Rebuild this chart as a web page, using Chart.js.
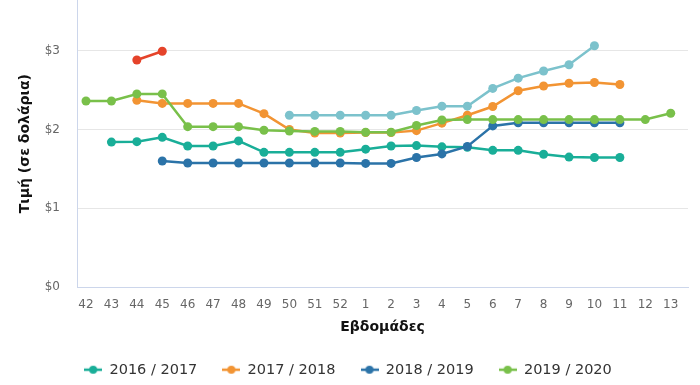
<!DOCTYPE html>
<html>
<head>
<meta charset="utf-8">
<script src="https://cdn.jsdelivr.net/npm/chart.js@4/dist/chart.umd.min.js"></script>
<style>
  html, body { margin: 0; padding: 0; background: #ffffff; }
  #wrap { width: 700px; height: 385px; position: relative; }
</style>
</head>
<body>
<div id="wrap"><canvas id="c" width="700" height="385"></canvas></div>
<script>
// ---- data ----
const weeks = ['42','43','44','45','46','47','48','49','50','51','52','1','2','3','4','5','6','7','8','9','10','11','12','13'];
const seriesNames = ['2016 / 2017', '2017 / 2018', '2018 / 2019', '2019 / 2020', '2020 / 2021', '2015 / 2016'];
const s2016_2017 = [null,1.84,1.845,1.90,1.79,1.79,1.855,1.71,1.71,1.71,1.71,1.75,1.79,1.795,1.78,1.775,1.735,1.735,1.685,1.65,1.645,1.645,null,null];
const s2017_2018 = [null,null,2.37,2.33,2.33,2.33,2.33,2.20,2.00,1.955,1.955,1.96,1.96,1.985,2.08,2.18,2.29,2.49,2.55,2.585,2.595,2.57,null,null];
const s2018_2019 = [null,null,null,1.60,1.575,1.575,1.575,1.575,1.575,1.575,1.575,1.57,1.57,1.645,1.69,1.785,2.045,2.085,2.085,2.085,2.085,2.085,null,null];
const s2019_2020 = [2.36,2.36,2.45,2.45,2.035,2.035,2.035,1.99,1.98,1.975,1.975,1.965,1.965,2.05,2.12,2.125,2.125,2.125,2.125,2.125,2.125,2.125,2.125,2.205];
const sLightBlue = [null,null,null,null,null,null,null,null,2.18,2.18,2.18,2.18,2.18,2.24,2.295,2.295,2.52,2.65,2.74,2.82,3.06,null,null,null];
const sRed = [null,null,2.88,2.99,null,null,null,null,null,null,null,null,null,null,null,null,null,null,null,null,null,null,null,null];
const yTickValues = [0, 1, 2, 3];

const colors = ['#19ae98', '#f29433', '#2b73a8', '#79c04a', '#7cc2cc', '#e5432a'];
const drawOrder = [4, 3, 2, 1, 5, 6];
const allSeries = [s2016_2017, s2017_2018, s2018_2019, s2019_2020, sLightBlue, sRed];

function legendMarker(color) {
  const cv = document.createElement('canvas');
  cv.width = 18; cv.height = 10;
  const g = cv.getContext('2d');
  g.strokeStyle = color; g.lineWidth = 2.5;
  g.beginPath(); g.moveTo(0, 5); g.lineTo(18, 5); g.stroke();
  g.fillStyle = color;
  g.beginPath(); g.arc(9, 5, 4, 0, Math.PI * 2); g.fill();
  return cv;
}

const datasets = allSeries.map((arr, i) => ({
  label: seriesNames[i],
  data: arr.map((v, j) => ({ x: j, y: v })),
  borderColor: colors[i],
  backgroundColor: colors[i],
  borderWidth: 2.5,
  pointRadius: 4.5,
  pointBorderWidth: 0,
  pointBackgroundColor: colors[i],
  pointStyle: 'circle',
  tension: 0,
  spanGaps: false,
  order: drawOrder[i],
  _marker: legendMarker(colors[i])
}));

const tickFont = { family: 'DejaVu Sans', size: 12 };
const titleFont = { family: 'DejaVu Sans', size: 14, weight: 'bold' };

const shiftLegend = {
  id: 'shiftLegend',
  afterLayout(chart) {
    if (chart.legend) { chart.legend.left += 4; chart.legend.right += 4; }
  }
};

new Chart(document.getElementById('c'), {
  type: 'line',
  data: { datasets },
  plugins: [shiftLegend],
  options: {
    responsive: false,
    animation: false,
    layout: { autoPadding: false, padding: { left: 0, right: 12, top: 0, bottom: -2 } },
    plugins: {
      tooltip: { enabled: false },
      legend: {
        position: 'bottom',
        labels: {
          usePointStyle: true,
          pointStyleWidth: 18,
          padding: 25,
          color: '#333333',
          font: { family: 'DejaVu Sans', size: 14.5 },
          filter: (item) => item.datasetIndex < 4,
          sort: (a, b) => a.datasetIndex - b.datasetIndex,
          generateLabels: (chart) => chart.data.datasets.map((d, i) => ({
            text: d.label,
            datasetIndex: i,
            pointStyle: d._marker,
            fillStyle: d.borderColor,
            strokeStyle: d.borderColor,
            lineWidth: 0,
            fontColor: '#333333',
            hidden: false
          }))
        }
      }
    },
    scales: {
      x: {
        type: 'linear',
        min: -0.354,
        max: 23.68,
        afterFit: (s) => { s.height = 50.2; s.paddingLeft = 0; s.paddingRight = 0; s.paddingTop = 0; s.paddingBottom = 0; },
        afterBuildTicks: (s) => { s.ticks = weeks.map((w, i) => ({ value: i })); },
        grid: { display: false, drawTicks: false },
        border: { display: true, color: '#ccd6eb', width: 1 },
        ticks: {
          padding: 10,
          color: '#666666',
          font: tickFont,
          maxRotation: 0,
          autoSkip: false,
          callback: (v) => weeks[v] !== undefined ? weeks[v] : ''
        },
        title: {
          display: true,
          text: 'Εβδομάδες',
          color: '#111111',
          font: titleFont,
          padding: { top: 0, bottom: 2.1 }
        }
      },
      y: {
        min: 0,
        max: 3.64,
        afterFit: (s) => { s.width = 77; s.paddingTop = 0; s.paddingBottom = 0; s.paddingLeft = 0; s.paddingRight = 0; },
        afterBuildTicks: (s) => { s.ticks = yTickValues.map(v => ({ value: v })); },
        grid: { color: '#e6e6e6', lineWidth: 1, drawTicks: false },
        border: { display: true, color: '#ccd6eb', width: 1 },
        ticks: {
          padding: 17,
          color: '#666666',
          font: tickFont,
          callback: (v) => '$' + v
        },
        title: {
          display: true,
          text: 'Τιμή (σε δολάρια)',
          color: '#111111',
          font: titleFont,
          padding: { top: 16.6, bottom: 0 }
        }
      }
    }
  }
});
</script>
</body>
</html>
